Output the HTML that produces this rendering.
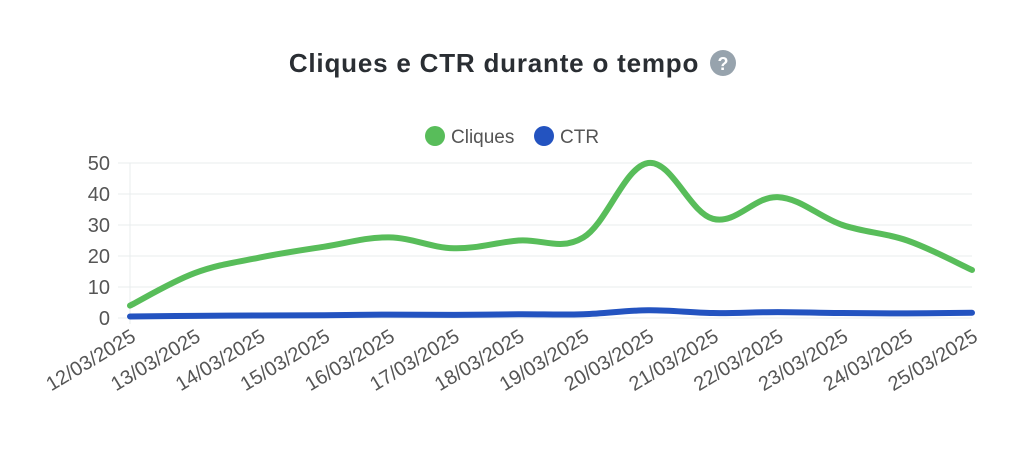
<!DOCTYPE html>
<html><head><meta charset="utf-8"><style>
body{margin:0;background:#fff;width:1024px;height:448px;overflow:hidden;font-family:"Liberation Sans",sans-serif}
</style></head><body>
<svg width="1024" height="448" xmlns="http://www.w3.org/2000/svg" font-family="Liberation Sans, sans-serif">
<text x="494" y="72" text-anchor="middle" font-size="26" font-weight="bold" letter-spacing="0.8" fill="#2a2e33">Cliques e CTR durante o tempo</text>
<circle cx="723" cy="63" r="13" fill="#97a3ad"/>
<text x="723" y="70" text-anchor="middle" font-size="18" font-weight="bold" fill="#fff">?</text>
<circle cx="435" cy="136" r="10" fill="#58bd5a"/>
<text x="451" y="143" font-size="19" fill="#555">Cliques</text>
<circle cx="544" cy="136" r="10" fill="#2353c0"/>
<text x="560" y="143" font-size="19" fill="#555">CTR</text>
<g stroke="#e8ecee" stroke-width="1">
<line x1="118" x2="972" y1="163" y2="163"/><line x1="118" x2="972" y1="194" y2="194"/>
<line x1="118" x2="972" y1="225" y2="225"/><line x1="118" x2="972" y1="256" y2="256"/>
<line x1="118" x2="972" y1="287" y2="287"/><line x1="118" x2="972" y1="318" y2="318"/>
<line x1="130" x2="130" y1="163" y2="324"/>
</g>
<g font-size="20" fill="#555" text-anchor="end">
<text x="110" y="170">50</text><text x="110" y="201">40</text><text x="110" y="232">30</text>
<text x="110" y="263">20</text><text x="110" y="294">10</text><text x="110" y="325">0</text>
</g>
<g id="xl" font-size="20" fill="#555" text-anchor="end"></g>
<path id="cl" fill="none" stroke="#58bd5a" stroke-width="6" stroke-linecap="round"/>
<path id="ct" fill="none" stroke="#2353c0" stroke-width="6" stroke-linecap="round"/>
</svg>
<script>
var x0=130,st=842/13;
var c=[4,14.5,19.5,23,26,22.5,25,26,50,32,39,30,25,15.5];
var t=[0.5,0.7,0.8,0.9,1.1,1,1.2,1.2,2.5,1.6,1.9,1.6,1.5,1.7];
function Y(v){return 318-v*3.1}
function path(a){var p=a.map(function(v,i){return [x0+i*st,Y(v)]});
var d="M"+p[0][0]+","+p[0][1];
for(var i=0;i<p.length-1;i++){var p0=p[i-1]||p[i],p1=p[i],p2=p[i+1],p3=p[i+2]||p2;
var k=0.18;
d+=" C"+(p1[0]+(p2[0]-p0[0])*k)+","+(p1[1]+(p2[1]-p0[1])*k)+" "+(p2[0]-(p3[0]-p1[0])*k)+","+(p2[1]-(p3[1]-p1[1])*k)+" "+p2[0]+","+p2[1];}
return d;}
document.getElementById('cl').setAttribute('d',path(c));
document.getElementById('ct').setAttribute('d',path(t));
var g=document.getElementById('xl'),s="";
for(var i=0;i<14;i++){var x=x0+i*st+7,y=340,dd=(12+i)+"/03/2025";
s+='<text transform="translate('+x+','+y+') rotate(-31)">'+dd+'</text>';}
g.innerHTML=s;
</script>
</body></html>
